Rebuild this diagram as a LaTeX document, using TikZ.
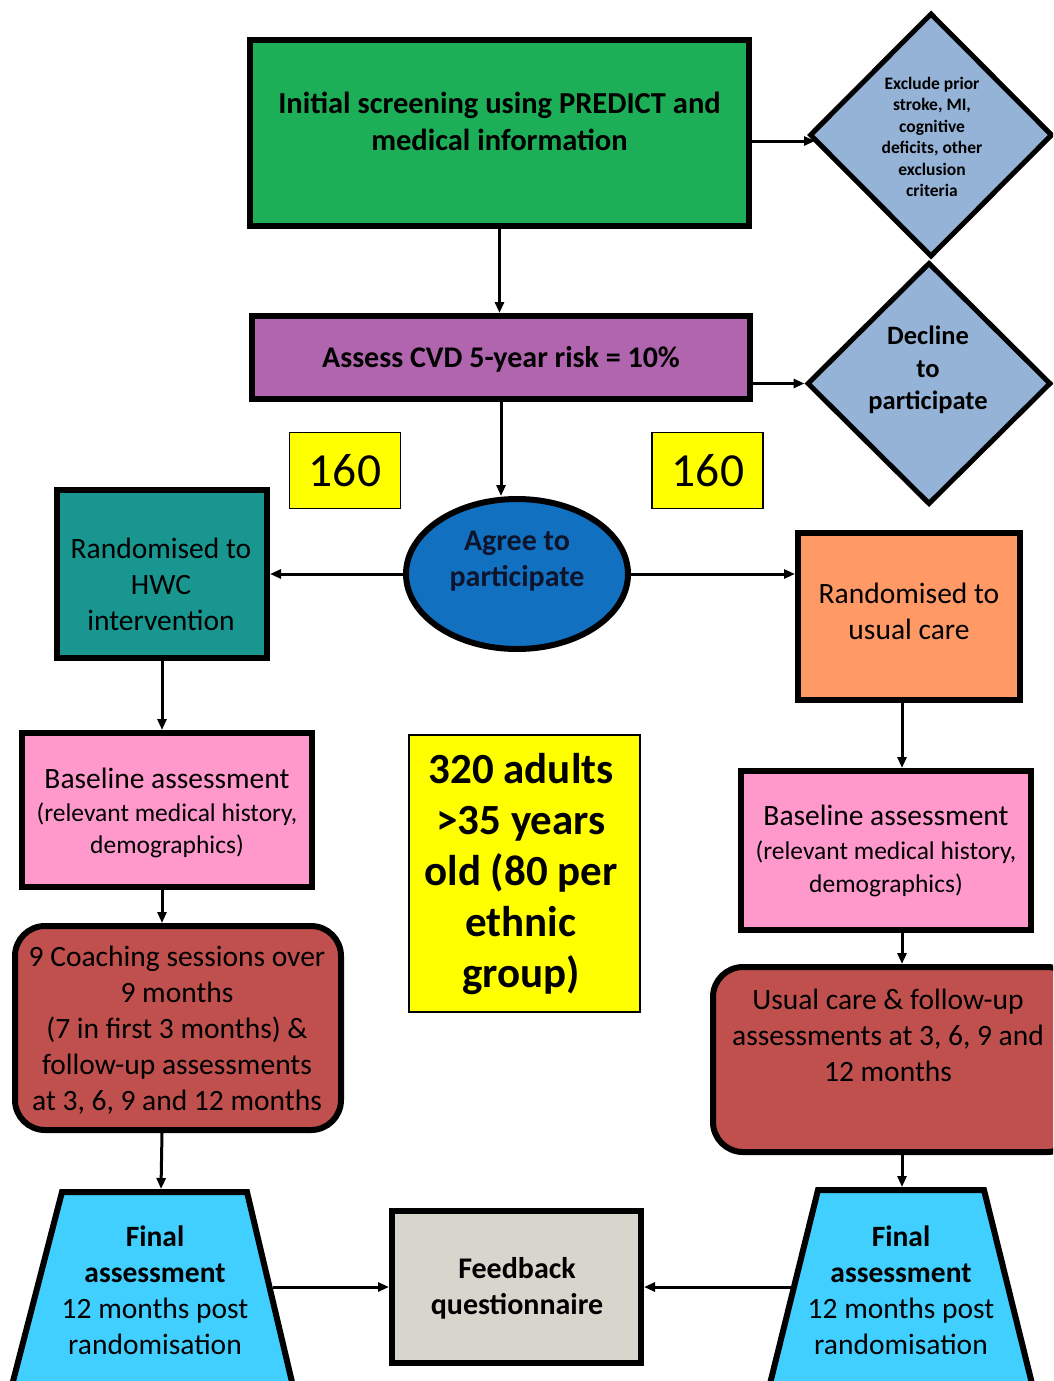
\documentclass[tikz,border=0pt]{standalone}
\usepackage{fontspec}
\setmainfont{Carlito}
\usetikzlibrary{arrows.meta,shapes.geometric}
\definecolor{cgreen}{RGB}{29,175,87}
\definecolor{cpurple}{RGB}{176,101,174}
\definecolor{cdiam}{RGB}{149,179,215}
\definecolor{cyel}{RGB}{255,255,0}
\definecolor{cteal}{RGB}{24,150,143}
\definecolor{cblue}{RGB}{17,112,192}
\definecolor{corange}{RGB}{255,153,102}
\definecolor{cpink}{RGB}{255,153,204}
\definecolor{cred}{RGB}{192,80,77}
\definecolor{ccyan}{RGB}{64,207,255}
\definecolor{cgrey}{RGB}{216,213,204}
\definecolor{cnavy}{RGB}{14,20,44}
\newcommand\myfs[2]{\fontsize{#1}{#2}\selectfont}
\begin{document}
\begin{tikzpicture}[x=1pt,y=-1pt,
  box/.style={draw=black,line width=6pt,inner sep=0pt,rectangle},
  rbox/.style={box,rounded corners=30pt},
  dm/.style={draw=black,line width=5pt,diamond,inner sep=0pt,fill=cdiam},
  ybox/.style={draw=black,line width=1.3pt,inner sep=0pt,rectangle,fill=cyel},
  txt/.style={align=center,inner sep=0pt,text=black},
  arr/.style={line width=3pt,-{Triangle[length=11pt,width=9pt]}}]
\useasboundingbox (0,0) rectangle (1053,1381);
\fill[white] (0,0) rectangle (1053,1381);
\clip (0,0) rectangle (1053,1381);

% top boxes
\node[box,fill=cgreen,minimum width=499,minimum height=186] (green) at (499.5,133) {};
\node[txt,font=\bfseries\myfs{30.5}{37}] (greentxt) at (499.5,121) {Initial screening using PREDICT and\\medical information};
\node[box,fill=cpurple,minimum width=498,minimum height=83] (purple) at (501,357.5) {};
\node[txt,font=\bfseries\myfs{30}{36}] (purpletxt) at (501,359) {Assess CVD 5-year risk = 10\%};

% diamonds
\node[dm,minimum width=243,minimum height=244] (dmA) at (931,135) {};
\node[txt,font=\bfseries\myfs{17.5}{21.4}] (dmAtxt) at (932,137) {Exclude prior\\stroke, MI,\\cognitive\\deficits, other\\exclusion\\criteria};
\node[dm,minimum width=244,minimum height=242] (dmB) at (929,383.5) {};
\node[txt,font=\bfseries\myfs{26.5}{32.5}] (dmBtxt) at (928,370) {Decline\\to\\participate};
\coordinate (dmAin) at (815,141);

% 160 boxes
\node[ybox,minimum width=111,minimum height=76] (yA) at (345,470.5) {};
\node[txt,font=\myfs{47.5}{47}] (yAtxt) at (345,471) {160};
\node[ybox,minimum width=111,minimum height=76] (yB) at (707.5,470.5) {};
\node[txt,font=\myfs{47.5}{47}] (yBtxt) at (708,471) {160};

% ellipse
\node[draw=black,line width=6pt,ellipse,fill=cblue,minimum width=222,minimum height=150,inner sep=0pt] (ell) at (517,574) {};
\node[txt,text=cnavy,font=\bfseries\myfs{30}{36}] (elltxt) at (517,561) {Agree to\\participate};

% randomised boxes
\node[box,fill=cteal,minimum width=210,minimum height=168] (teal) at (162,574) {};
\node[txt,font=\myfs{29.5}{36}] (tealtxt) at (161,584) {Randomised to\\HWC\\intervention};
\node[box,fill=corange,minimum width=222,minimum height=167] (orange) at (909,616.5) {};
\node[txt,font=\myfs{29.5}{36}] (orangetxt) at (909,611) {Randomised to\\usual care};

% baseline boxes
\node[box,fill=cpink,minimum width=290,minimum height=154] (pinkL) at (167,810) {};
\node[txt,font=\myfs{25.5}{32.5}] (pinkLtxt) at (167,813) {{\myfs{29.5}{33}Baseline assessment}\\(relevant medical history,\\demographics)};
\node[box,fill=cpink,minimum width=290,minimum height=159] (pinkR) at (886,850.5) {};
\node[txt,font=\myfs{25.5}{33.5}] (pinkRtxt) at (886,851) {{\myfs{29.5}{33}Baseline assessment}\\(relevant medical history,\\demographics)};

% big yellow
\node[ybox,line width=1.5pt,minimum width=231,minimum height=277] (big) at (524.5,873.5) {};
\node[txt,font=\bfseries\myfs{43}{51}] (bigtxt) at (521,874.5) {320 adults\\>35 years\\old (80 per\\ethnic\\group)};

% red boxes
\node[rbox,fill=cred,minimum width=326,minimum height=204] (redL) at (178,1028) {};
\node[txt,font=\myfs{29.5}{36}] (redLtxt) at (177,1030) {9 Coaching sessions over\\9 months\\(7 in first 3 months) \&\\follow-up assessments\\at 3, 6, 9 and 12 months};
\node[rbox,fill=cred,minimum width=364,minimum height=185] (redR) at (895,1059.5) {};
\node[txt,font=\myfs{29.5}{36}] (redRtxt) at (888,1035) {Usual care \& follow-up\\assessments at 3, 6, 9 and\\12 months};

% trapezoids
\filldraw[fill=ccyan,draw=black,line width=6pt] (3,1420) -- (62,1192) -- (247,1192) -- (301,1420);
\filldraw[fill=ccyan,draw=black,line width=6pt] (761,1420) -- (818,1190) -- (984,1190) -- (1041,1420);
\node[txt,font=\myfs{29.5}{36}] (trapLtxt) at (155,1290) {\textbf{Final}\\\textbf{assessment}\\12 months post\\randomisation};
\node[txt,font=\myfs{29.5}{36}] (trapRtxt) at (901,1290) {\textbf{Final}\\\textbf{assessment}\\12 months post\\randomisation};
\coordinate (trapLtop) at (161,1189);
\coordinate (trapRtop) at (902,1187);
\coordinate (trapLr) at (273,1287);
\coordinate (trapRl) at (792,1287);
\coordinate (xR) at (902,0);

% feedback
\node[box,fill=cgrey,minimum width=249,minimum height=152] (feedback) at (516.5,1287) {};
\node[txt,font=\bfseries\myfs{30}{36}] (feedtxt) at (517,1288) {Feedback\\questionnaire};

% connectors
\draw[arr] (green.south) -- (green.south |- purple.north);
\draw[arr] (dmAin -| green.east) -- (dmAin);
\draw[arr] (dmB.west -| purple.east) -- (dmB.west);
\draw[arr] (purple.south) -- (purple.south |- ell.north);
\draw[arr] (ell.west) -- (ell.west -| teal.east);
\draw[arr] (ell.east) -- (ell.east -| orange.west);
\draw[arr] (teal.south) -- (teal.south |- pinkL.north);
\draw[arr] (teal.south |- pinkL.south) -- (teal.south |- redL.north);
\draw[arr] (teal.south |- redL.south) -- (trapLtop);
\draw[arr] (orange.south -| xR) -- (xR |- pinkR.north);
\draw[arr] (pinkR.south -| xR) -- (xR |- redR.north);
\draw[arr] (redR.south -| xR) -- (trapRtop);
\draw[arr] (trapLr) -- (feedback.west);
\draw[arr] (trapRl) -- (feedback.east);
\end{tikzpicture}
\end{document}
